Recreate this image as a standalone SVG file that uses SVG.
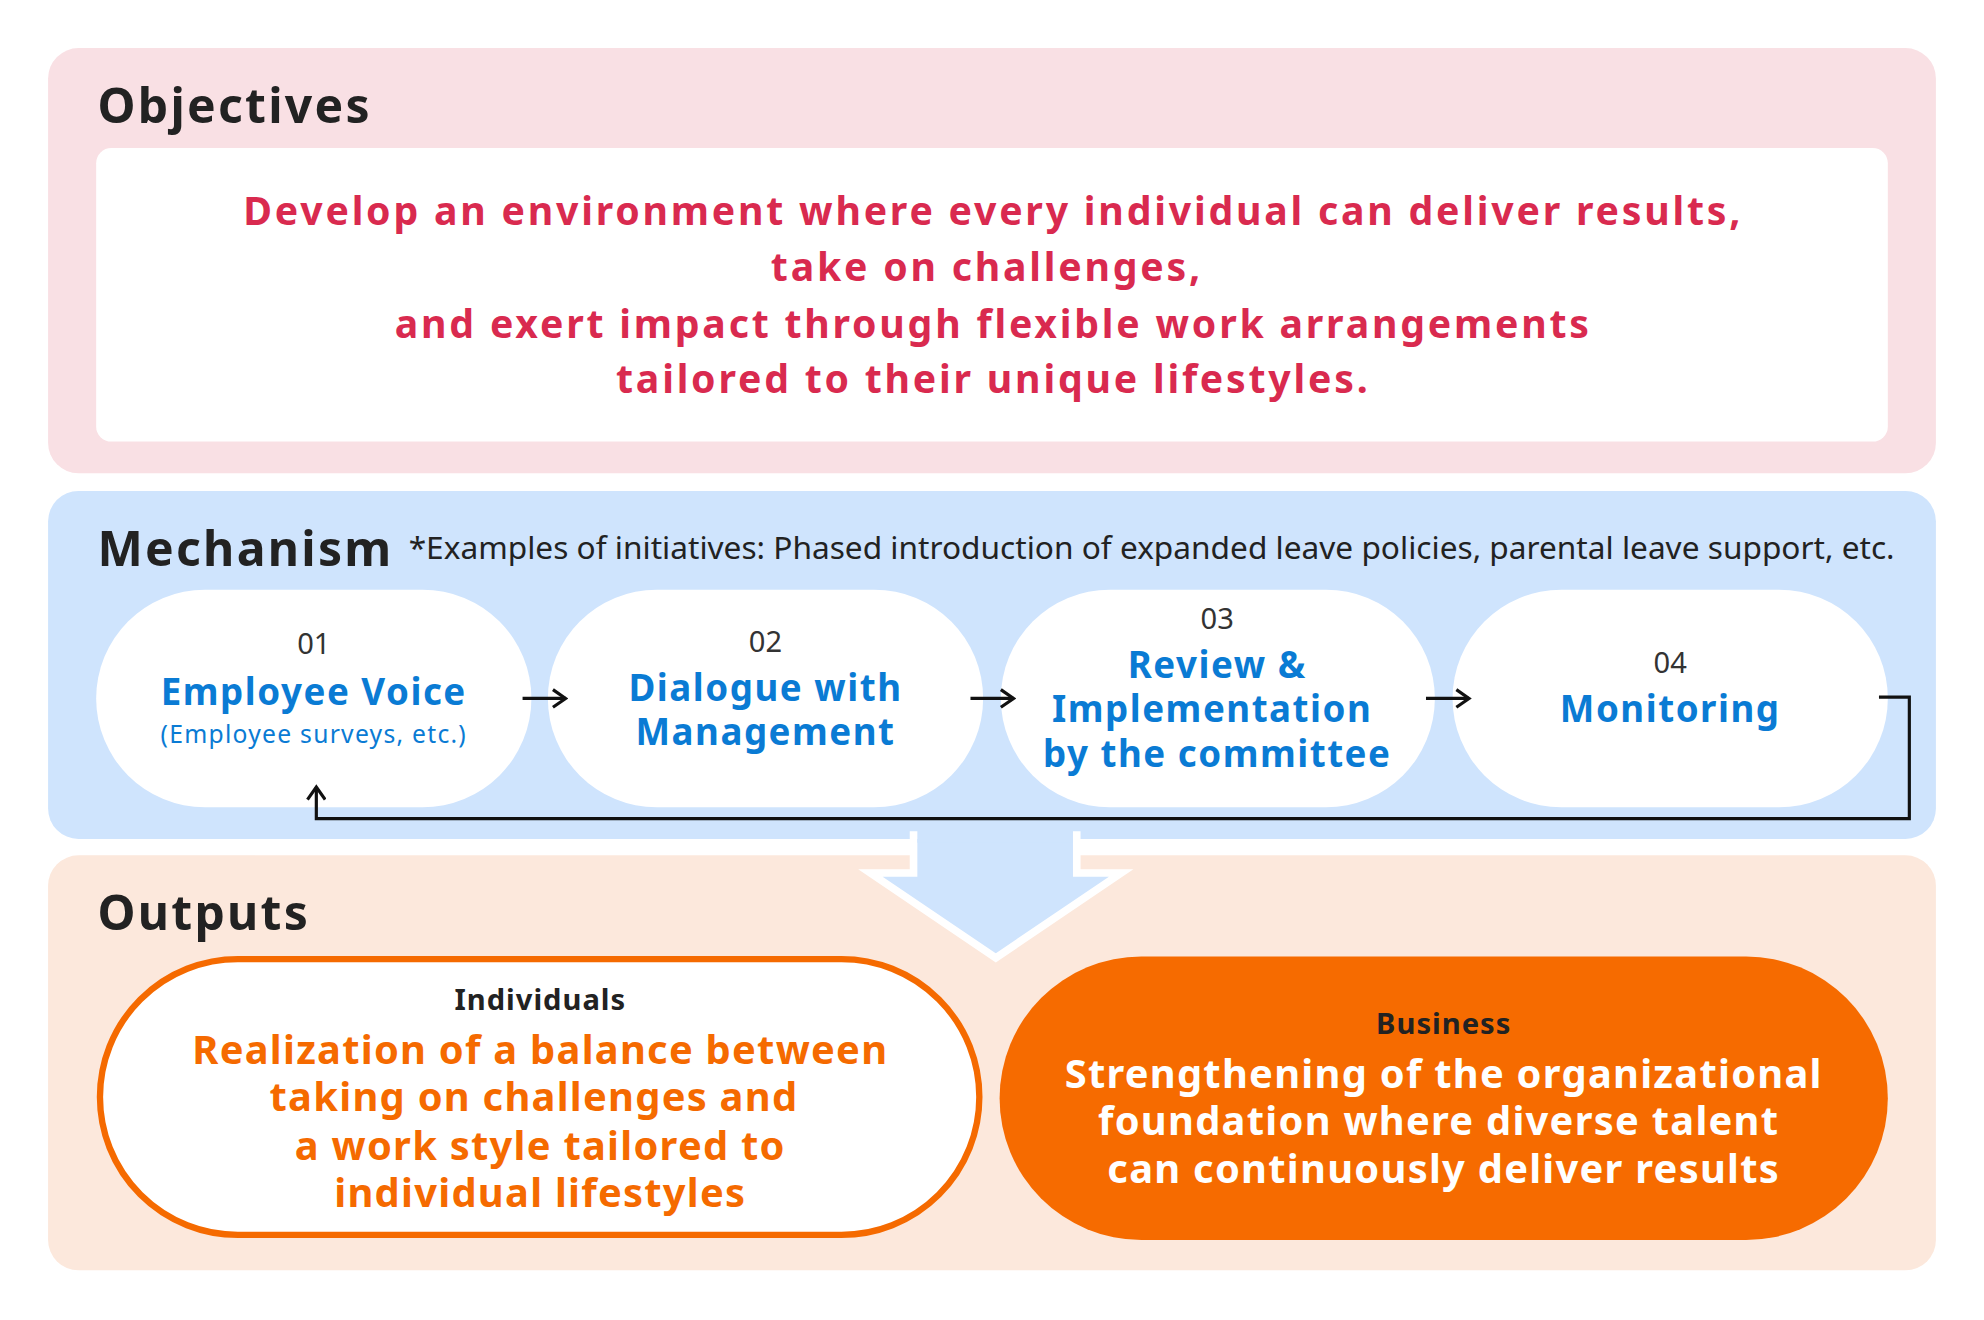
<svg xmlns="http://www.w3.org/2000/svg" width="1984" height="1320" viewBox="0 0 1984 1320">
<defs>
<style>
text{font-family:"Noto Sans","Open Sans","Liberation Sans",sans-serif}
.h{font-size:38px;font-weight:700;fill:#222;letter-spacing:1.8px}
.obj{font-size:31px;font-weight:700;fill:#d92a4f;text-anchor:middle;letter-spacing:2.2px}
.num{font-size:23px;fill:#333;text-anchor:middle}
.bl{font-size:29px;font-weight:700;fill:#0a7bd4;text-anchor:middle;letter-spacing:1.2px}
.pill{fill:#fff}
.ln{fill:none;stroke:#111;stroke-width:2.5}
.lab{font-size:23px;font-weight:700;fill:#222;text-anchor:middle;letter-spacing:0.8px}
.out{font-size:31.5px;font-weight:700;text-anchor:middle;letter-spacing:1px}
</style>
<marker id="ah" viewBox="0 0 14 16" refX="12" refY="8" markerWidth="14" markerHeight="16" markerUnits="userSpaceOnUse" orient="auto"><path d="M2,1 L12,8 L2,15" fill="none" stroke="#111" stroke-width="2.5"/></marker>
</defs>
<rect width="1984" height="1320" fill="#fff"/>
<g transform="scale(1.2653)">
<g id="objectives">
<rect x="38" y="38" width="1492" height="336" rx="24" fill="#f9e0e4"/>
<text class="h" x="77" y="97">Objectives</text>
<rect x="76" y="117" width="1416" height="232" rx="12" fill="#fff"/>
<text class="obj" x="785" y="178">Develop an environment where every individual can deliver results,</text>
<text class="obj" x="780" y="222">take on challenges,</text>
<text class="obj" x="785" y="267">and exert impact through flexible work arrangements</text>
<text class="obj" x="785" y="311">tailored to their unique lifestyles.</text>
</g>
<g id="mechanism">
<rect x="38" y="388" width="1492" height="275" rx="24" fill="#cfe4fd"/>
<text class="h" x="77" y="447">Mechanism</text>
<text x="323" y="442" font-size="25" fill="#222">*Examples of initiatives: Phased introduction of expanded leave policies, parental leave support, etc.</text>
</g>
<g id="outputs">
<rect x="38" y="676" width="1492" height="328" rx="24" fill="#fce8dc"/>
<text class="h" x="77" y="735">Outputs</text>
</g>
<g id="bigarrow">
<path d="M722,660 L851,660 L851,690 L886,690 L787,757 L688,690 L722,690 Z" fill="#cfe4fd" stroke="#fff" stroke-width="6" stroke-linejoin="miter"/>
<rect x="725" y="650" width="123" height="16" fill="#cfe4fd"/>
</g>
<g id="step01">
<rect class="pill" x="76" y="466" width="344" height="172" rx="86"/>
<text class="num" x="248" y="517">01</text>
<text class="bl" x="248" y="557">Employee Voice</text>
<text x="248" y="587" font-size="19.5" fill="#0a7bd4" text-anchor="middle" letter-spacing="1">(Employee surveys, etc.)</text>
</g>
<g id="step02">
<rect class="pill" x="433" y="466" width="344" height="172" rx="86"/>
<text class="num" x="605" y="515">02</text>
<text class="bl" x="605" y="554">Dialogue with</text>
<text class="bl" x="605" y="589">Management</text>
</g>
<g id="step03">
<rect class="pill" x="791" y="466" width="343" height="172" rx="86"/>
<text class="num" x="962" y="497">03</text>
<text class="bl" x="962" y="536">Review &amp;</text>
<text class="bl" x="958" y="571">Implementation</text>
<text class="bl" x="962" y="606">by the committee</text>
</g>
<g id="step04">
<rect class="pill" x="1148" y="466" width="344" height="172" rx="86"/>
<text class="num" x="1320" y="532">04</text>
<text class="bl" x="1320" y="571">Monitoring</text>
</g>
<g id="individuals">
<rect x="79" y="758" width="695" height="218" rx="109" fill="#fff" stroke="#f56a00" stroke-width="5"/>
<text class="lab" x="427" y="798">Individuals</text>
<text class="out" x="427" y="841" fill="#f56a00">Realization of a balance between</text>
<text class="out" x="422" y="878" fill="#f56a00">taking on challenges and</text>
<text class="out" x="427" y="917" fill="#f56a00">a work style tailored to</text>
<text class="out" x="427" y="954" fill="#f56a00">individual lifestyles</text>
</g>
<g id="business">
<rect x="790" y="756" width="702" height="224" rx="112" fill="#f66b00"/>
<text class="lab" x="1141" y="817">Business</text>
<text class="out" x="1141" y="860" fill="#fff">Strengthening of the organizational</text>
<text class="out" x="1137" y="897" fill="#fff">foundation where diverse talent</text>
<text class="out" x="1141" y="935" fill="#fff">can continuously deliver results</text>
</g>
<g id="connectors">
<line class="ln" x1="413" y1="552" x2="447" y2="552" marker-end="url(#ah)"/>
<line class="ln" x1="767" y1="552" x2="801" y2="552" marker-end="url(#ah)"/>
<line class="ln" x1="1127" y1="552" x2="1161" y2="552" marker-end="url(#ah)"/>
<polyline class="ln" points="1485,551 1509,551 1509,647 250,647 250,622" marker-end="url(#ah)"/>
</g>
</g>
</svg>
